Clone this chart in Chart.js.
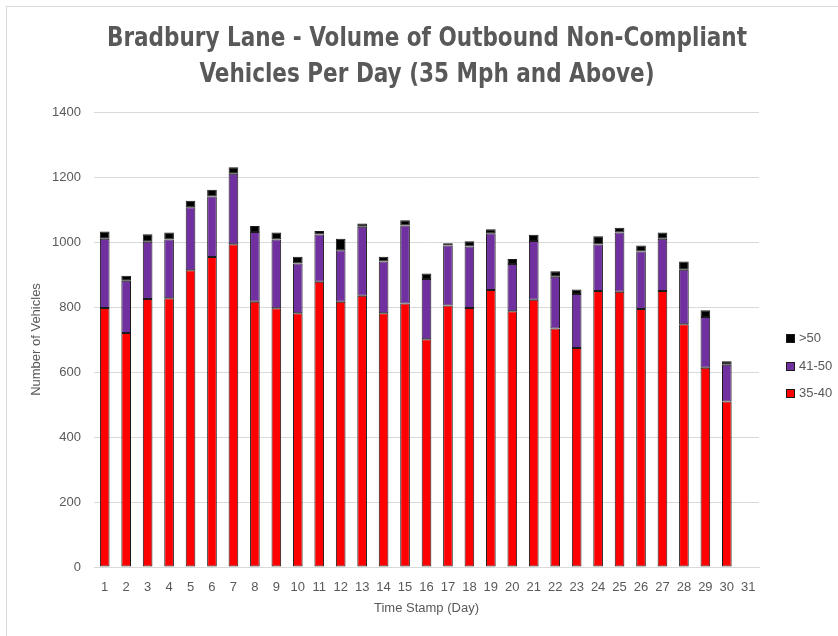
<!DOCTYPE html>
<html>
<head>
<meta charset="utf-8">
<script src="https://cdn.jsdelivr.net/npm/chart.js@4"></script>
<style>
  html, body { margin: 0; padding: 0; background: #fff; overflow: hidden; }
  #wrap { position: relative; width: 838px; height: 636px; }
  #frame { position: absolute; left: 6px; top: 6px; width: 900px; height: 700px; border: 1px solid #d9d9d9; }
  #chart { position: absolute; left: 0; top: 0; }
  #legend { position: absolute; left: 786px; top: 330px; font: 13px "Liberation Sans", Arial, sans-serif; color: #595959; }
  #legend .item { height: 27.5px; display: flex; align-items: flex-start; }
  #legend .box { width: 7px; height: 7px; border: 1px solid #1a1a1a; margin-top: 4px; margin-right: 4px; }
</style>
</head>
<body>
<div id="wrap">
  <div id="frame"></div>
  <canvas id="chart" width="838" height="636"></canvas>
  <div id="legend"></div>
</div>
<script>
// Days on the x axis (31 has no data)
const days = ['1','2','3','4','5','6','7','8','9','10','11','12','13','14','15','16',
              '17','18','19','20','21','22','23','24','25','26','27','28','29','30','31'];

// Vehicles per speed band
const speed35to40 = [797, 720, 825, 827, 913, 954, 993, 816, 796, 781, 878, 816, 835, 781, 811,
                     701, 805, 797, 852, 787, 822, 734, 674, 849, 847, 794, 849, 747, 613, 509];
const speed41to50 = [213, 161, 176, 181, 194, 186, 217, 215, 212, 153, 145, 159, 212, 159, 240,
                     185, 184, 189, 175, 145, 181, 159, 166, 143, 182, 177, 161, 168, 156, 113];
const speedOver50 = [22, 15, 23, 21, 20, 21, 20, 18, 21, 21, 11, 35, 10, 15, 16,
                     17, 7, 16, 12, 16, 19, 17, 14, 26, 15, 18, 19, 25, 21, 11];

const yTicks = [0, 200, 400, 600, 800, 1000, 1200, 1400];

const titleLines = ['Bradbury Lane - Volume of Outbound Non-Compliant', 'Vehicles Per Day (35 Mph and Above)'];

const textColor = '#595959';
const gridColor = '#d9d9d9';
const tickFont = { family: '"Liberation Sans", Arial, sans-serif', size: 13 };

const datasets = [
    { label: '35-40', data: speed35to40, backgroundColor: '#ff0000' },
    { label: '41-50', data: speed41to50, backgroundColor: '#7030a0' },
    { label: '>50', data: speedOver50, backgroundColor: '#000000' }
].map(ds => Object.assign(ds, {
    borderColor: '#1a1a1a',
    borderWidth: 1,
    borderSkipped: false,
    barPercentage: 0.45,
    categoryPercentage: 1
}));

// Narrow bold title (no condensed font installed, so squeeze it horizontally)
const narrowTitle = {
    id: 'narrowTitle',
    afterDraw(chart) {
        const c = chart.ctx;
        c.save();
        c.font = 'bold 27px "DejaVu Sans Condensed", "DejaVu Sans", sans-serif';
        c.fillStyle = textColor;
        c.textAlign = 'center';
        c.textBaseline = 'middle';
        const squeeze = 640 / c.measureText(titleLines[0]).width;
        titleLines.forEach((line, i) => {
            c.save();
            c.translate(427, 39 + i * 36);
            c.scale(squeeze, 1);
            c.fillText(line, 0, 0);
            c.restore();
        });
        c.restore();
    }
};

const ctx = document.getElementById('chart').getContext('2d');
new Chart(ctx, {
    type: 'bar',
    data: { labels: days, datasets: datasets },
    plugins: [narrowTitle],
    options: {
        responsive: false,
        animation: false,
        layout: { padding: { left: 0, right: 79, top: 112, bottom: 0 } },
        plugins: {
            legend: { display: false },
            tooltip: { enabled: false },
            title: { display: false }
        },
        scales: {
            x: {
                stacked: true,
                grid: { display: false, drawTicks: false },
                border: { color: gridColor },
                ticks: { color: textColor, font: tickFont, padding: 13, maxRotation: 0, autoSkip: false },
                title: { display: true, text: 'Time Stamp (Day)', color: textColor, font: tickFont, padding: { top: 0, bottom: 20 } },
                afterFit: (scale) => { scale.height = 69; }
            },
            y: {
                stacked: true,
                min: 0,
                max: 1400,
                afterBuildTicks: (scale) => { scale.ticks = yTicks.map(v => ({ value: v })); },
                grid: { color: gridColor, drawTicks: false },
                border: { display: false },
                ticks: { color: textColor, font: tickFont, padding: 13, callback: (v) => String(v) },
                title: { display: true, text: 'Number of Vehicles', color: textColor, font: tickFont, padding: { top: 29, bottom: 0 } },
                afterFit: (scale) => { scale.width = 94; }
            }
        }
    }
});

// Legend on the right, top entry first
const legend = document.getElementById('legend');
datasets.slice().reverse().forEach(ds => {
    const item = document.createElement('div');
    item.className = 'item';
    item.innerHTML = '<div class="box" style="background:' + ds.backgroundColor + '"></div><span>' + ds.label + '</span>';
    legend.appendChild(item);
});
</script>
</body>
</html>
